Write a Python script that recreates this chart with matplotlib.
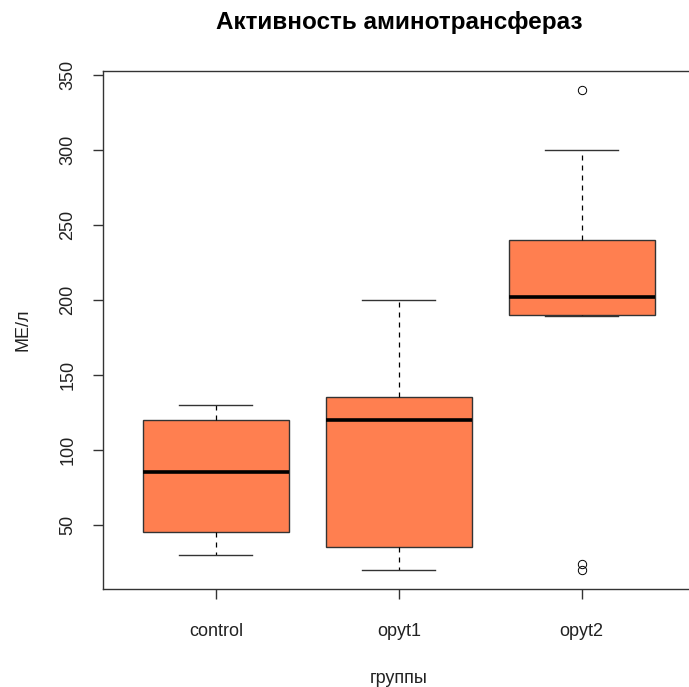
import matplotlib
matplotlib.use('Agg')
import matplotlib.pyplot as plt

groups = ['control', 'opyt1', 'opyt2']
whisk_low = [30, 20, 189]
q1 = [45, 35, 190]
medians = [85, 120, 202]
q3 = [120, 135, 240]
whisk_high = [130, 200, 300]
outliers = [[], [], [340, 24, 20]]

plt.rcParams['font.family'] = ['Liberation Sans', 'DejaVu Sans']

stats = []
for i, name in enumerate(groups):
    stats.append({'label': name, 'whislo': whisk_low[i], 'q1': q1[i],
                  'med': medians[i], 'q3': q3[i], 'whishi': whisk_high[i],
                  'fliers': outliers[i]})

fig = plt.figure(figsize=(6.89, 6.87), dpi=100)
ax = fig.add_axes([0.1488, 0.1424, 0.860, 0.7546])

edge = '#333333'
ax.bxp(stats, positions=[1, 2, 3], widths=0.8, patch_artist=True,
       boxprops=dict(facecolor='#FF7F50', edgecolor=edge, linewidth=1.0),
       medianprops=dict(color='black', linewidth=2.6, solid_capstyle='butt'),
       whiskerprops=dict(color='black', linewidth=0.9, linestyle=(0, (4, 4))),
       capprops=dict(color=edge, linewidth=1.0),
       capwidths=0.4,
       flierprops=dict(marker='o', markersize=6, markerfacecolor='none',
                       markeredgecolor='black', markeredgewidth=0.7))

ax.set_xlim(0.38, 3.62)
ax.set_ylim(7.2, 352.8)
ax.set_yticks([50, 100, 150, 200, 250, 300, 350])
ax.set_xticks([1, 2, 3])
ax.set_xticklabels(groups)
for s in ax.spines.values():
    s.set_color(edge)
    s.set_linewidth(1.0)
ax.spines['right'].set_visible(False)
ax.tick_params(axis='both', colors=edge, labelcolor='#222222', labelsize=13,
               length=7, width=1.0)
ax.tick_params(axis='x', pad=17)
ax.tick_params(axis='y', pad=12)
for lab in ax.get_yticklabels():
    lab.set_rotation(90)
    lab.set_va('center')

ax.set_title('Активность аминотрансфераз', fontsize=17.5, fontweight='bold',
             pad=30)
ax.set_xlabel('группы', fontsize=13, color='#222222', labelpad=22)
ax.set_ylabel('МЕ/л', fontsize=13, color='#222222', labelpad=20)

fig.savefig('out.png', dpi=100)
